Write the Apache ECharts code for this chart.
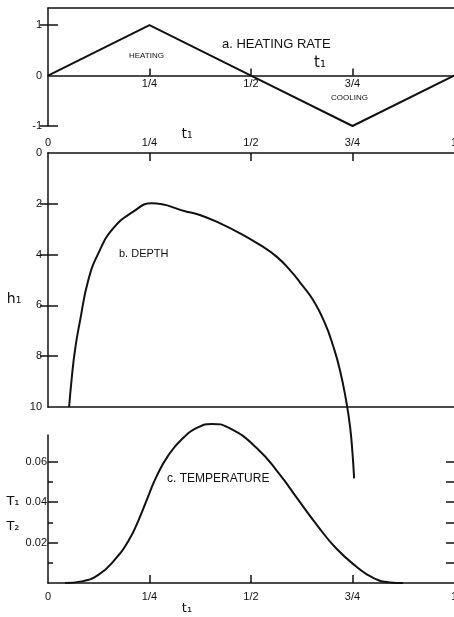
<!DOCTYPE html>
<html><head><meta charset="utf-8">
<script src="https://cdn.jsdelivr.net/npm/echarts@6/dist/echarts.min.js"></script>
<style>html,body{margin:0;padding:0;background:#fff}#c{width:454px;height:617px}</style>
</head><body><div id="c"></div>
<script>
// ---- data ----
var tickValues = [0, 0.25, 0.5, 0.75, 1];
var tickLabels = ['0', '1/4', '1/2', '3/4', '1'];

var heatT    = [0, 0.25, 0.5, 0.75, 1];
var heatRate = [0, 1, 0, -1, 0];

var depthT = [0.052, 0.058, 0.067, 0.079, 0.099, 0.124, 0.161, 0.210, 0.255, 0.342, 0.374, 0.424, 0.473, 0.522, 0.563, 0.596, 0.621, 0.653, 0.682, 0.703, 0.719, 0.734, 0.744, 0.750, 0.754];
var depthH = [10, 8.94, 7.70, 6.60, 5.02, 3.95, 2.96, 2.31, 1.98, 2.31, 2.44, 2.77, 3.16, 3.62, 4.08, 4.61, 5.10, 5.79, 6.70, 7.63, 8.54, 9.72, 10.77, 11.82, 12.81];

var tempT = [0.042, 0.083, 0.124, 0.163, 0.200, 0.225, 0.248, 0.268, 0.296, 0.330, 0.368, 0.403, 0.446, 0.514, 0.571, 0.613, 0.662, 0.709, 0.759, 0.801, 0.842, 0.875];
var tempV = [0, 0.0008, 0.0040, 0.0112, 0.0215, 0.0320, 0.0435, 0.0530, 0.0630, 0.0712, 0.0768, 0.0787, 0.0767, 0.0668, 0.0536, 0.0421, 0.0288, 0.0173, 0.0082, 0.0025, 0.0003, 0];

var rateTicks = [-1, 0, 1];
var depthTicks = [0, 2, 4, 6, 8, 10];
var tempTicks = [0.02, 0.04, 0.06];
var tempMinor = [0.01, 0.03, 0.05];
var tempRight = [0.01, 0.02, 0.03, 0.04, 0.05, 0.06];

function zip(a, b) { return a.map(function (v, i) { return [v, b[i]]; }); }
function frac(v) { var i = tickValues.indexOf(Math.round(v * 100) / 100); return i >= 0 ? tickLabels[i] : ''; }

var INK = '#111';
var FONT = 'Liberation Sans';
var lineStyle = { color: INK, width: 1.5 };
var lbl = { color: INK, fontFamily: FONT, fontSize: 11 };
var off = { show: false };

var chart = echarts.init(document.getElementById('c'), null, { renderer: 'canvas' });
chart.setOption({
  backgroundColor: '#fff',
  animation: false,
  grid: [
    { left: 48, width: 406, top: 8, height: 118, outerBoundsMode: 'none', containLabel: false },
    { left: 48, width: 406, top: 153, height: 254, outerBoundsMode: 'none', containLabel: false },
    { left: 48, width: 406, top: 435, height: 148, outerBoundsMode: 'none', containLabel: false },
    { left: 48, width: 406, top: 8, height: 67.6, outerBoundsMode: 'none', containLabel: false }
  ],
  xAxis: [
    { gridIndex: 0, type: 'value', min: 0, max: 1, position: 'bottom',
      axisLine: { onZero: true, lineStyle: lineStyle }, axisTick: off, axisLabel: off, splitLine: off },
    { gridIndex: 0, type: 'value', min: 0, max: 1, position: 'top',
      axisLine: { onZero: false, lineStyle: lineStyle }, axisTick: off, axisLabel: off, splitLine: off },
    { gridIndex: 1, type: 'value', min: 0, max: 1, interval: 0.25, position: 'top',
      axisLine: { onZero: false, lineStyle: lineStyle },
      axisTick: { inside: true, length: 8, lineStyle: lineStyle, customValues: [0.25, 0.5, 0.75] },
      axisLabel: Object.assign({ margin: 5, customValues: tickValues, formatter: frac }, lbl),
      splitLine: off },
    { gridIndex: 1, type: 'value', min: 0, max: 1, position: 'bottom',
      axisLine: { onZero: false, lineStyle: lineStyle }, axisTick: off, axisLabel: off, splitLine: off },
    { gridIndex: 2, type: 'value', min: 0, max: 1, interval: 0.25, position: 'bottom',
      axisLine: { onZero: false, lineStyle: lineStyle },
      axisTick: { inside: true, length: 8, lineStyle: lineStyle, customValues: [0.25, 0.5, 0.75] },
      axisLabel: Object.assign({ margin: 8, customValues: tickValues, formatter: frac }, lbl),
      splitLine: off },
    { gridIndex: 3, type: 'value', min: 0, max: 1, interval: 0.25, position: 'bottom',
      axisLine: { show: false, onZero: false },
      axisTick: { inside: true, length: 7, lineStyle: lineStyle, customValues: [0.25, 0.5, 0.75] },
      axisLabel: Object.assign({ margin: 3, customValues: [0.25, 0.5, 0.75], formatter: frac }, lbl),
      splitLine: off }
  ],
  yAxis: [
    { gridIndex: 0, type: 'value', min: -1, max: 1.34, position: 'left',
      axisLine: { show: true, onZero: false, lineStyle: lineStyle },
      axisTick: { show: true, inside: true, length: 10, lineStyle: lineStyle, customValues: [-1, 1] },
      axisLabel: Object.assign({ margin: 6, customValues: rateTicks }, lbl),
      splitLine: off },
    { gridIndex: 0, type: 'value', min: -1, max: 1.34, position: 'right',
      axisLine: off,
      axisTick: { show: true, inside: true, length: 8, lineStyle: lineStyle, customValues: [-1, 1] },
      axisLabel: off, splitLine: off },
    { gridIndex: 1, type: 'value', min: 0, max: 10, inverse: true, position: 'left',
      axisLine: { show: true, onZero: false, lineStyle: lineStyle },
      axisTick: { show: true, inside: true, length: 10, lineStyle: lineStyle, customValues: [2, 4, 6, 8] },
      axisLabel: Object.assign({ margin: 6, customValues: depthTicks }, lbl),
      splitLine: off },
    { gridIndex: 1, type: 'value', min: 0, max: 10, inverse: true, position: 'right',
      axisLine: off,
      axisTick: { show: true, inside: true, length: 8, lineStyle: lineStyle, customValues: [2, 4, 6, 8] },
      axisLabel: off, splitLine: off },
    { gridIndex: 2, type: 'value', min: 0, max: 0.0732, position: 'left',
      axisLine: { show: true, onZero: false, lineStyle: lineStyle },
      axisTick: { show: true, inside: true, length: 10, lineStyle: lineStyle, customValues: tempTicks },
      axisLabel: Object.assign({ margin: 1, customValues: tempTicks, formatter: function (v) { return v.toFixed(2); } }, lbl),
      splitLine: off },
    { gridIndex: 2, type: 'value', min: 0, max: 0.0732, position: 'left',
      axisLine: off,
      axisTick: { show: true, inside: true, length: 5, lineStyle: lineStyle, customValues: tempMinor },
      axisLabel: off, splitLine: off },
    { gridIndex: 2, type: 'value', min: 0, max: 0.0732, position: 'right',
      axisLine: off,
      axisTick: { show: true, inside: true, length: 8, lineStyle: lineStyle, customValues: tempRight },
      axisLabel: off, splitLine: off },
    { gridIndex: 3, type: 'value', min: 0, max: 1, show: false }
  ],
  series: [
    { name: 'heating rate', type: 'line', xAxisIndex: 0, yAxisIndex: 0, data: zip(heatT, heatRate),
      symbol: 'none', lineStyle: { color: INK, width: 2 } },
    { name: 'depth', type: 'line', xAxisIndex: 2, yAxisIndex: 2, data: zip(depthT, depthH),
      symbol: 'none', smooth: 0.5, clip: false, lineStyle: { color: INK, width: 2 } },
    { name: 'temperature', type: 'line', xAxisIndex: 4, yAxisIndex: 4, data: zip(tempT, tempV),
      symbol: 'none', smooth: 0.5, clip: false, lineStyle: { color: INK, width: 2 } }
  ],
  graphic: [
    { type: 'text', x: 222, y: 44, style: { text: 'a. HEATING RATE', font: '13px "Liberation Sans"', fill: INK, textVerticalAlign: 'middle' } },
    { type: 'text', x: 129, y: 56, style: { text: 'HEATING', font: '8px "Liberation Sans"', fill: INK, textVerticalAlign: 'middle' } },
    { type: 'text', x: 331, y: 98, style: { text: 'COOLING', font: '8px "Liberation Sans"', fill: INK, textVerticalAlign: 'middle' } },
    { type: 'text', x: 320, y: 63, style: { text: 't₁', font: '15px "DejaVu Sans"', fill: INK, textAlign: 'center', textVerticalAlign: 'middle' } },
    { type: 'text', x: 187, y: 134, style: { text: 't₁', font: '14px "DejaVu Sans"', fill: INK, textAlign: 'center', textVerticalAlign: 'middle' } },
    { type: 'text', x: 119, y: 254, style: { text: 'b. DEPTH', font: '11px "Liberation Sans"', fill: INK, textVerticalAlign: 'middle' } },
    { type: 'text', x: 14, y: 299, style: { text: 'h₁', font: '14px "DejaVu Sans"', fill: INK, textAlign: 'center', textVerticalAlign: 'middle' } },
    { type: 'text', x: 167, y: 479, style: { text: 'c. TEMPERATURE', font: '12px "Liberation Sans"', fill: INK, textVerticalAlign: 'middle' } },
    { type: 'text', x: 13, y: 502, style: { text: 'T₁', font: '13px "DejaVu Sans"', fill: INK, textAlign: 'center', textVerticalAlign: 'middle' } },
    { type: 'text', x: 13, y: 527, style: { text: 'T₂', font: '13px "DejaVu Sans"', fill: INK, textAlign: 'center', textVerticalAlign: 'middle' } },
    { type: 'text', x: 187, y: 609, style: { text: 't₁', font: '13px "DejaVu Sans"', fill: INK, textAlign: 'center', textVerticalAlign: 'middle' } }
  ]
});
</script></body></html>
